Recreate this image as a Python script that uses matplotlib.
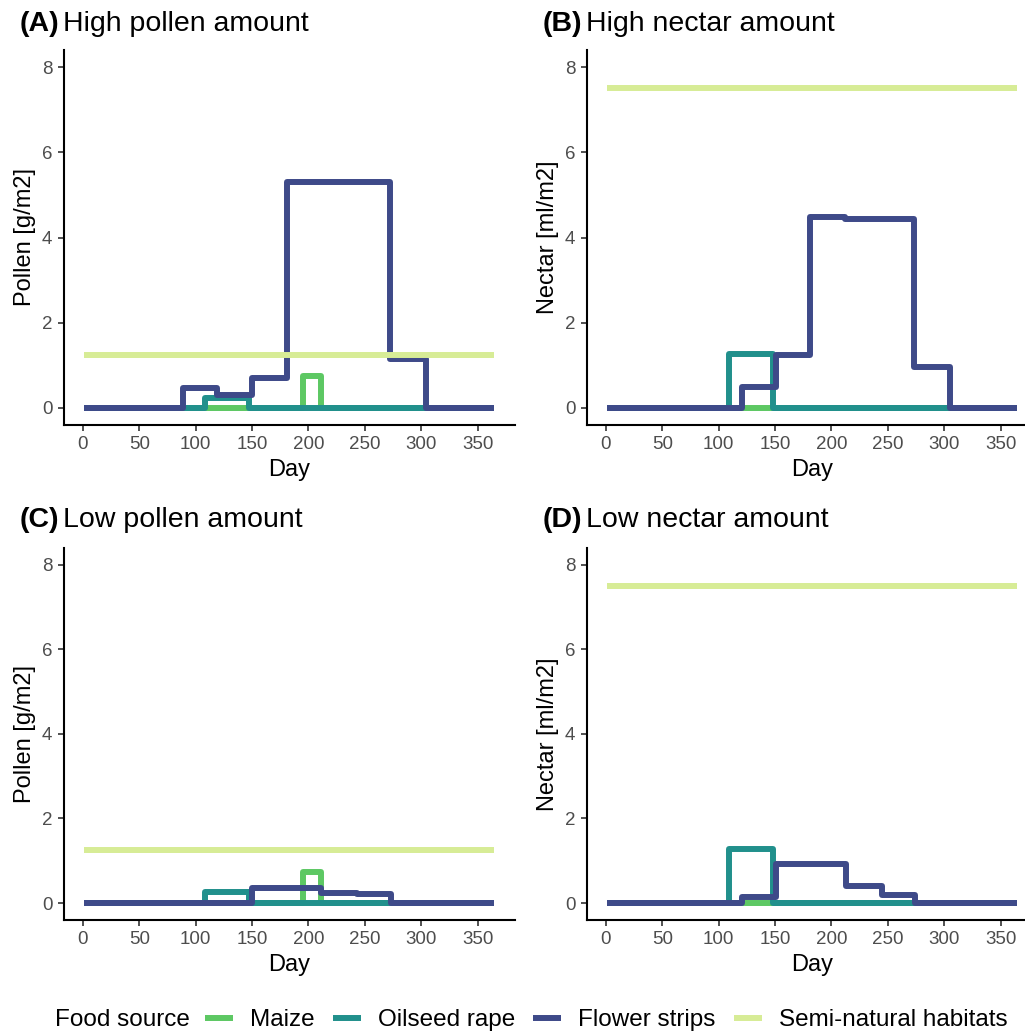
#! /usr/bin/env python3

import matplotlib
matplotlib.use("Agg")
import matplotlib.pyplot as plt
from matplotlib.lines import Line2D

plt.rcParams["font.family"] = ["Liberation Sans", "DejaVu Sans"]

"""
Data (step changes: day where a new level starts, and the level)
"""

series_names  = ["Maize", "Oilseed rape", "Flower strips", "Semi-natural habitats"]
series_colors = ["#5DC863", "#21908C", "#3E4A89", "#D7EC96"]

# (A) high pollen [g/m2]
maize_A_days  = [1, 195, 211, 365]
maize_A_vals  = [0, 0.75, 0, 0]
rape_A_days   = [1, 108, 147, 365]
rape_A_vals   = [0, 0.24, 0, 0]
flower_A_days = [1, 89, 119, 150, 181, 272, 304, 365]
flower_A_vals = [0, 0.47, 0.30, 0.70, 5.30, 1.15, 0, 0]
semi_A_days   = [1, 365]
semi_A_vals   = [1.25, 1.25]

# (B) high nectar [ml/m2]
maize_B_days  = [1, 365]
maize_B_vals  = [0, 0]
rape_B_days   = [1, 109, 148, 365]
rape_B_vals   = [0, 1.27, 0, 0]
flower_B_days = [1, 121, 151, 181, 212, 273, 305, 365]
flower_B_vals = [0, 0.50, 1.25, 4.48, 4.43, 0.96, 0, 0]
semi_B_days   = [1, 365]
semi_B_vals   = [7.5, 7.5]

# (C) low pollen [g/m2]
maize_C_days  = [1, 195, 211, 365]
maize_C_vals  = [0, 0.73, 0, 0]
rape_C_days   = [1, 108, 147, 365]
rape_C_vals   = [0, 0.26, 0, 0]
flower_C_days = [1, 150, 211, 243, 273, 365]
flower_C_vals = [0, 0.36, 0.24, 0.21, 0, 0]
semi_C_days   = [1, 365]
semi_C_vals   = [1.25, 1.25]

# (D) low nectar [ml/m2]
maize_D_days  = [1, 365]
maize_D_vals  = [0, 0]
rape_D_days   = [1, 109, 148, 365]
rape_D_vals   = [0, 1.27, 0, 0]
flower_D_days = [1, 121, 151, 213, 245, 274, 365]
flower_D_vals = [0, 0.14, 0.92, 0.40, 0.19, 0, 0]
semi_D_days   = [1, 365]
semi_D_vals   = [7.5, 7.5]

panels = [
    ("(A)", "High pollen amount", "Pollen [g/m2]",
     [(maize_A_days, maize_A_vals), (rape_A_days, rape_A_vals),
      (flower_A_days, flower_A_vals), (semi_A_days, semi_A_vals)]),
    ("(B)", "High nectar amount", "Nectar [ml/m2]",
     [(maize_B_days, maize_B_vals), (rape_B_days, rape_B_vals),
      (flower_B_days, flower_B_vals), (semi_B_days, semi_B_vals)]),
    ("(C)", "Low pollen amount", "Pollen [g/m2]",
     [(maize_C_days, maize_C_vals), (rape_C_days, rape_C_vals),
      (flower_C_days, flower_C_vals), (semi_C_days, semi_C_vals)]),
    ("(D)", "Low nectar amount", "Nectar [ml/m2]",
     [(maize_D_days, maize_D_vals), (rape_D_days, rape_D_vals),
      (flower_D_days, flower_D_vals), (semi_D_days, semi_D_vals)]),
]

x_ticks = [0, 50, 100, 150, 200, 250, 300, 350]
y_ticks = [0, 2, 4, 6, 8]

"""
Figure
"""

W, H = 1025, 1031
fig = plt.figure(figsize=(W / 100, H / 100), dpi=100)

# axes boxes in pixels: left, top, right, bottom
boxes = [(63.6, 50, 515, 425), (586.6, 50, 1038, 425),
         (63.6, 547.6, 515, 920), (586.6, 547.6, 1038, 920)]
title_pos = [(20, 24), (543, 24), (20, 520), (543, 520)]

LW = 4.3

for (tag, title, ylab, data), (l, t, r, b), (tx, ty) in zip(panels, boxes, title_pos):
    ax = fig.add_axes([l / W, 1 - b / H, (r - l) / W, (b - t) / H])

    for (days, vals), color in zip(data, series_colors):
        ax.step(days, vals, where="post", color=color, lw=LW,
                solid_capstyle="butt", solid_joinstyle="round")

    ax.set_xlim(-17.2, 383.2)
    ax.set_ylim(-0.4, 8.4)
    ax.set_xticks(x_ticks)
    ax.set_yticks(y_ticks)
    ax.spines["top"].set_visible(False)
    ax.spines["right"].set_visible(False)
    for s in ("left", "bottom"):
        ax.spines[s].set_linewidth(1.5)
    ax.tick_params(labelsize=13.5, colors="#333333", labelcolor="#4D4D4D",
                   length=4, width=1.2, pad=4)
    ax.set_xlabel("Day", fontsize=17, labelpad=4)
    ax.set_ylabel(ylab, fontsize=17, labelpad=4)

    fig.text(tx / W, 1 - ty / H, tag, fontsize=20.5, fontweight="bold", va="center")
    fig.text((tx + 43) / W, 1 - ty / H, title, fontsize=20.5, va="center")

# legend along the bottom
fig.text(55 / W, 1 - 1020 / H, "Food source", fontsize=17.5, va="center")
handles = [Line2D([], [], color=c, lw=LW, solid_capstyle="butt") for c in series_colors]
fig.legend(handles, series_names, ncol=4, loc="center left",
           bbox_to_anchor=(205 / W, 1 - 1020 / H), frameon=False, fontsize=17.5,
           handlelength=1.15, handletextpad=0.7, columnspacing=0.75,
           borderpad=0, borderaxespad=0)

plt.savefig("out.png", dpi=100)
